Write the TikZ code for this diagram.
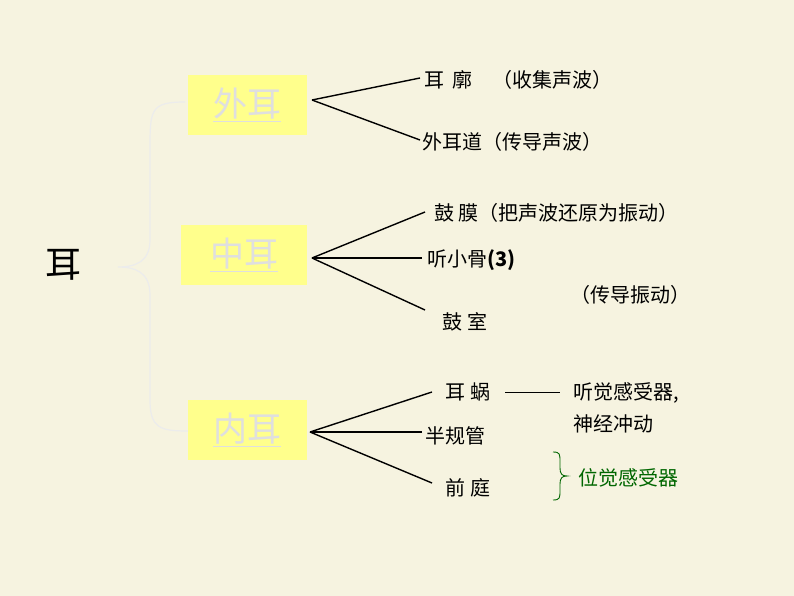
\documentclass[tikz,border=0pt]{standalone}
\usepackage{fontspec}
\setmainfont{Noto Sans CJK SC}
\definecolor{bg}{RGB}{246,243,224}
\definecolor{bx}{RGB}{255,255,140}
\begin{document}
\begin{tikzpicture}[x=1pt,y=-1pt,
  t/.style={inner sep=0pt,font=\fontsize{20}{20}\selectfont},
  box/.style={fill=bx,text=gray!25,inner sep=0pt,minimum width=119pt,minimum height=60pt,font=\fontsize{34}{34}\selectfont},
  ln/.style={black,line width=1.4pt}]
\fill[bg] (0,0) rectangle (794,596);
\useasboundingbox (0,0) rectangle (794,596);
\node[box] (w) at (247,105) {\underline{外耳}};
\node[box,minimum width=126pt] (z) at (244,255) {\underline{中耳}};
\node[box] (n) at (247,430) {\underline{内耳}};
\node[t,font=\fontsize{36}{36}\selectfont] (er) at (63,265) {耳};
\draw[gray!15,line width=1.2pt] (185,102) .. controls (150,102) and (150,110) .. (150,150) -- (150,240) .. controls (150,262) and (135,267) .. (118,267) .. controls (135,267) and (150,272) .. (150,295) -- (150,400) .. controls (150,428) and (160,431) .. (188,431);
\coordinate (aw) at (312,100);
\coordinate (az) at (312,258);
\coordinate (an) at (310,432);
\node[t,anchor=west] (a1) at (424,80) {耳\ \,廓\quad（收集声波）};
\node[t,anchor=west] (a2) at (422,142) {外耳道（传导声波）};
\node[t,anchor=west] (b1) at (434,213) {鼓\ 膜（把声波还原为振动）};
\node[t,anchor=west] (b2) at (427,260) {听小骨\textbf{(3)}};
\node[t] (b3) at (630,295) {（传导振动）};
\node[t] (b4) at (465,322) {鼓\ 室};
\node[t] (c1) at (468,392) {耳\ 蜗};
\node[t,anchor=west,align=left] (c1r) at (573,408) {听觉感受器,\\[10pt]神经冲动};
\node[t,anchor=west] (c2) at (425,436) {半规管};
\node[t] (c3) at (468,488) {前\ 庭};
\node[t,anchor=west,text=green!40!black] (c4) at (578,478) {位觉感受器};
\draw[ln] (aw) -- (420,78); \draw[ln] (aw) -- (420,140);
\draw[ln] (az) -- (425,212); \draw[ln] (az) -- (422,258); \draw[ln] (az) -- (425,310);
\draw[ln] (an) -- (432,392); \draw[ln] (an) -- (422,432); \draw[ln] (an) -- (432,483);
\draw[ln,line width=0.9pt] (505,392) -- (560,392);
\draw[green!40!black,line width=0.9pt] (553,452) .. controls (560,452) and (560,454) .. (560,462) -- (560,468) .. controls (560,474) and (562,476) .. (567,476) .. controls (562,476) and (560,478) .. (560,484) -- (560,490) .. controls (560,498) and (560,500) .. (553,500);
\end{tikzpicture}
\end{document}
